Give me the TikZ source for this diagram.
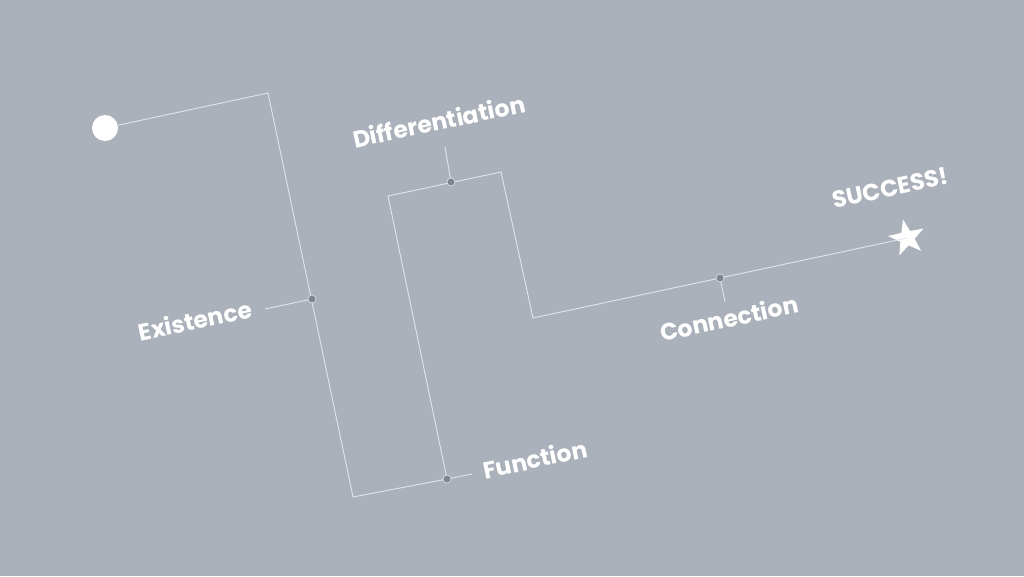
\documentclass[tikz,border=0pt]{standalone}
\usepackage{fontspec}
\setmainfont{Poppins}
\usetikzlibrary{shapes.geometric}
\definecolor{bgc}{RGB}{171,177,187}
\definecolor{linec}{RGB}{226,229,233}
\definecolor{dotc}{RGB}{128,132,140}
\tikzset{
  conn/.style={draw=linec, line width=0.9pt},
  jdot/.style={circle, fill=dotc, draw=linec, line width=0.6pt, minimum size=8pt, inner sep=0pt},
  lbl/.style={text=white, font=\fontsize{23.5}{26}\selectfont\bfseries, rotate=12, inner sep=0pt},
}
\begin{document}
\begin{tikzpicture}[x=1pt,y=-1pt]
\fill[bgc] (0,0) rectangle (1024,576);
\useasboundingbox (0,0) rectangle (1024,576);
% path points
\coordinate (A) at (268,93);
\coordinate (B) at (353,497);
\coordinate (C) at (388,196);
\coordinate (D) at (501,172);
\coordinate (G) at (533,318);
\node[circle, fill=white, minimum size=26pt, inner sep=0pt] (S) at (105,128) {};
\node[star, star points=5, star point ratio=2.5, fill=white, minimum size=38pt, inner sep=0pt, rotate=12] (T) at (907,238) {};
\draw[conn] (S) -- (A) -- (B) -- (447,479) -- (C) -- (D) -- (G) -- (T.center);
% branch ends
\coordinate (Eb) at (265,309);
\coordinate (Fb) at (472,474);
\coordinate (Db) at (445,147);
\coordinate (Cb) at (725,302);
\draw[conn] (312,299) -- (Eb);
\draw[conn] (447,479) -- (Fb);
\draw[conn] (451,182) -- (Db);
\draw[conn] (720,278) -- (Cb);
% junction dots
\node[jdot] (E) at (312,299) {};
\node[jdot] (F) at (447,479) {};
\node[jdot] (Df) at (451,182) {};
\node[jdot] (Cn) at (720,278) {};
% labels
\node[lbl] (LE) at (195,320) {Existence};
\node[lbl] (LF) at (535,459) {Function};
\node[lbl] (LD) at (439,121) {Differentiation};
\node[lbl] (LC) at (729,318) {Connection};
\node[lbl] (LS) at (890,188) {SUCCESS!};
\end{tikzpicture}
\end{document}
